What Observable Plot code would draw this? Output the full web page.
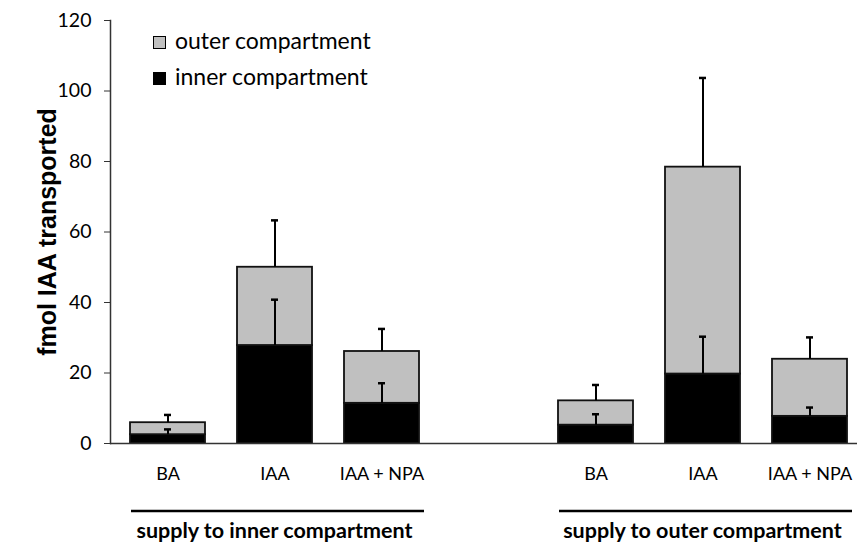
<!DOCTYPE html>
<html><head><meta charset="utf-8">
<script src="https://cdn.jsdelivr.net/npm/d3@7"></script>
<script src="https://cdn.jsdelivr.net/npm/@observablehq/plot@0.6"></script>
<style>
body{margin:0;background:#fff;}
#wrap{position:relative;width:857px;height:543px;font-family:Lato, sans-serif;color:#000;}
#legend{position:absolute;left:153px;top:0;font-family:Lato,sans-serif;font-size:23px;}
.li{position:absolute;left:0;white-space:nowrap;line-height:23px;}
.sw{position:absolute;left:0;width:11px;height:11px;border:1.5px solid #000;}
.lt{position:absolute;left:22px;top:0;}
</style></head><body><div id="wrap"></div>
<script>
const categories = ["BA", "IAA", "IAA + NPA"];
const groups = ["supply to inner compartment", "supply to outer compartment"];
// per bar: group 0 (BA, IAA, IAA+NPA), group 1 (BA, IAA, IAA+NPA)
const innerMean = [2.5, 27.8, 11.4, 5.2, 19.7, 7.7];
const outerMean = [3.4, 22.2, 14.7, 6.9, 58.7, 16.2];
const innerErr  = [1.5, 13.0, 5.7, 3.1, 10.6, 2.5];
const totalErr  = [2.2, 13.3, 6.4, 4.5, 25.3, 6.2];
const yTicks = [0, 20, 40, 60, 80, 100, 120];
const seriesNames = ["outer compartment", "inner compartment"];
const seriesColors = ["#c0c0c0", "#000000"];

const keys = [];
const rows = [];
groups.forEach((g, gi) => {
  if (gi > 0) keys.push("gap");
  categories.forEach((c, ci) => {
    const i = gi * categories.length + ci;
    const key = gi + "|" + ci;
    keys.push(key);
    const inner = innerMean[i];
    const total = inner + outerMean[i];
    rows.push({key, label: c, group: g, inner, total,
      innerTop: inner + innerErr[i], totalTop: total + totalErr[i]});
  });
});
const labelOf = k => k === "gap" ? "" : categories[+k.split("|")[1]];

const W = 857, H = 543;
const chart = Plot.plot({
  width: W, height: H,
  marginLeft: 110, marginRight: 0, marginTop: 20, marginBottom: 100,
  style: {fontFamily: "Lato, sans-serif", color: "#000", background: "#fff"},
  x: {type: "band", domain: keys, range: [112, 864], paddingInner: 0.3, paddingOuter: 0.15, axis: null},
  y: {domain: [0, 120], axis: null},
  marks: [
    Plot.barY(rows, {x: "key", y1: 0, y2: "inner", fill: seriesColors[1], stroke: "#111", strokeWidth: 1.8}),
    Plot.barY(rows, {x: "key", y1: "inner", y2: "total", fill: seriesColors[0], stroke: "#111", strokeWidth: 1.8}),
    Plot.ruleX(rows, {x: "key", y1: "inner", y2: "innerTop", stroke: "#000", strokeWidth: 2}),
    Plot.tickY(rows, {x: "key", y: "innerTop", insetLeft: 34, insetRight: 34, stroke: "#000", strokeWidth: 2.5}),
    Plot.ruleX(rows, {x: "key", y1: "total", y2: "totalTop", stroke: "#000", strokeWidth: 2}),
    Plot.tickY(rows, {x: "key", y: "totalTop", insetLeft: 34, insetRight: 34, stroke: "#000", strokeWidth: 2.5}),
    Plot.ruleY([0], {stroke: "#333", strokeWidth: 1.5}),
    Plot.frame({anchor: "left", stroke: "#333", strokeWidth: 1.5}),
    Plot.axisY(yTicks, {tickSize: 6, tickPadding: 13, fontSize: 19.5, label: null, stroke: "#333"}),
    Plot.axisX(keys, {tickSize: 0, tickPadding: 24, fontSize: 18, tickFormat: labelOf, label: null}),
    Plot.text(["fmol IAA transported"], {frameAnchor: "left", textAnchor: "middle", lineAnchor: "middle",
      rotate: -90, dx: -63, fontSize: 25, fontWeight: "bold", fontFamily: "Liberation Sans, Arial, sans-serif"})
  ]
});
document.getElementById("wrap").appendChild(chart);

// group rules and labels below the axis, positioned with Plot's x scale
const xs = chart.scale("x");
const bw = xs.bandwidth;
const svg = d3.select(chart);
groups.forEach((g, gi) => {
  const first = gi + "|0", last = gi + "|" + (categories.length - 1), mid = gi + "|1";
  const x1 = xs.apply(first) + 1, x2 = xs.apply(last) + bw + 5;
  svg.append("line").attr("x1", x1).attr("x2", x2).attr("y1", 511).attr("y2", 511)
    .attr("stroke", "#000").attr("stroke-width", 2.5);
  svg.append("text").attr("x", xs.apply(mid) + bw / 2).attr("y", 538)
    .attr("text-anchor", "middle").attr("font-weight", "bold").attr("font-size", 21.5)
    .attr("font-family", "Lato, sans-serif").text(g);
});

// legend
const lg = document.createElement("div");
lg.id = "legend";
seriesNames.forEach((n, i) => {
  const it = document.createElement("div");
  it.className = "li";
  it.style.top = (29 + i * 36) + "px";
  it.innerHTML = `<span class="sw" style="background:${seriesColors[i]};top:${7}px"></span><span class="lt">${n}</span>`;
  lg.appendChild(it);
});
document.getElementById("wrap").appendChild(lg);
</script></body></html>
